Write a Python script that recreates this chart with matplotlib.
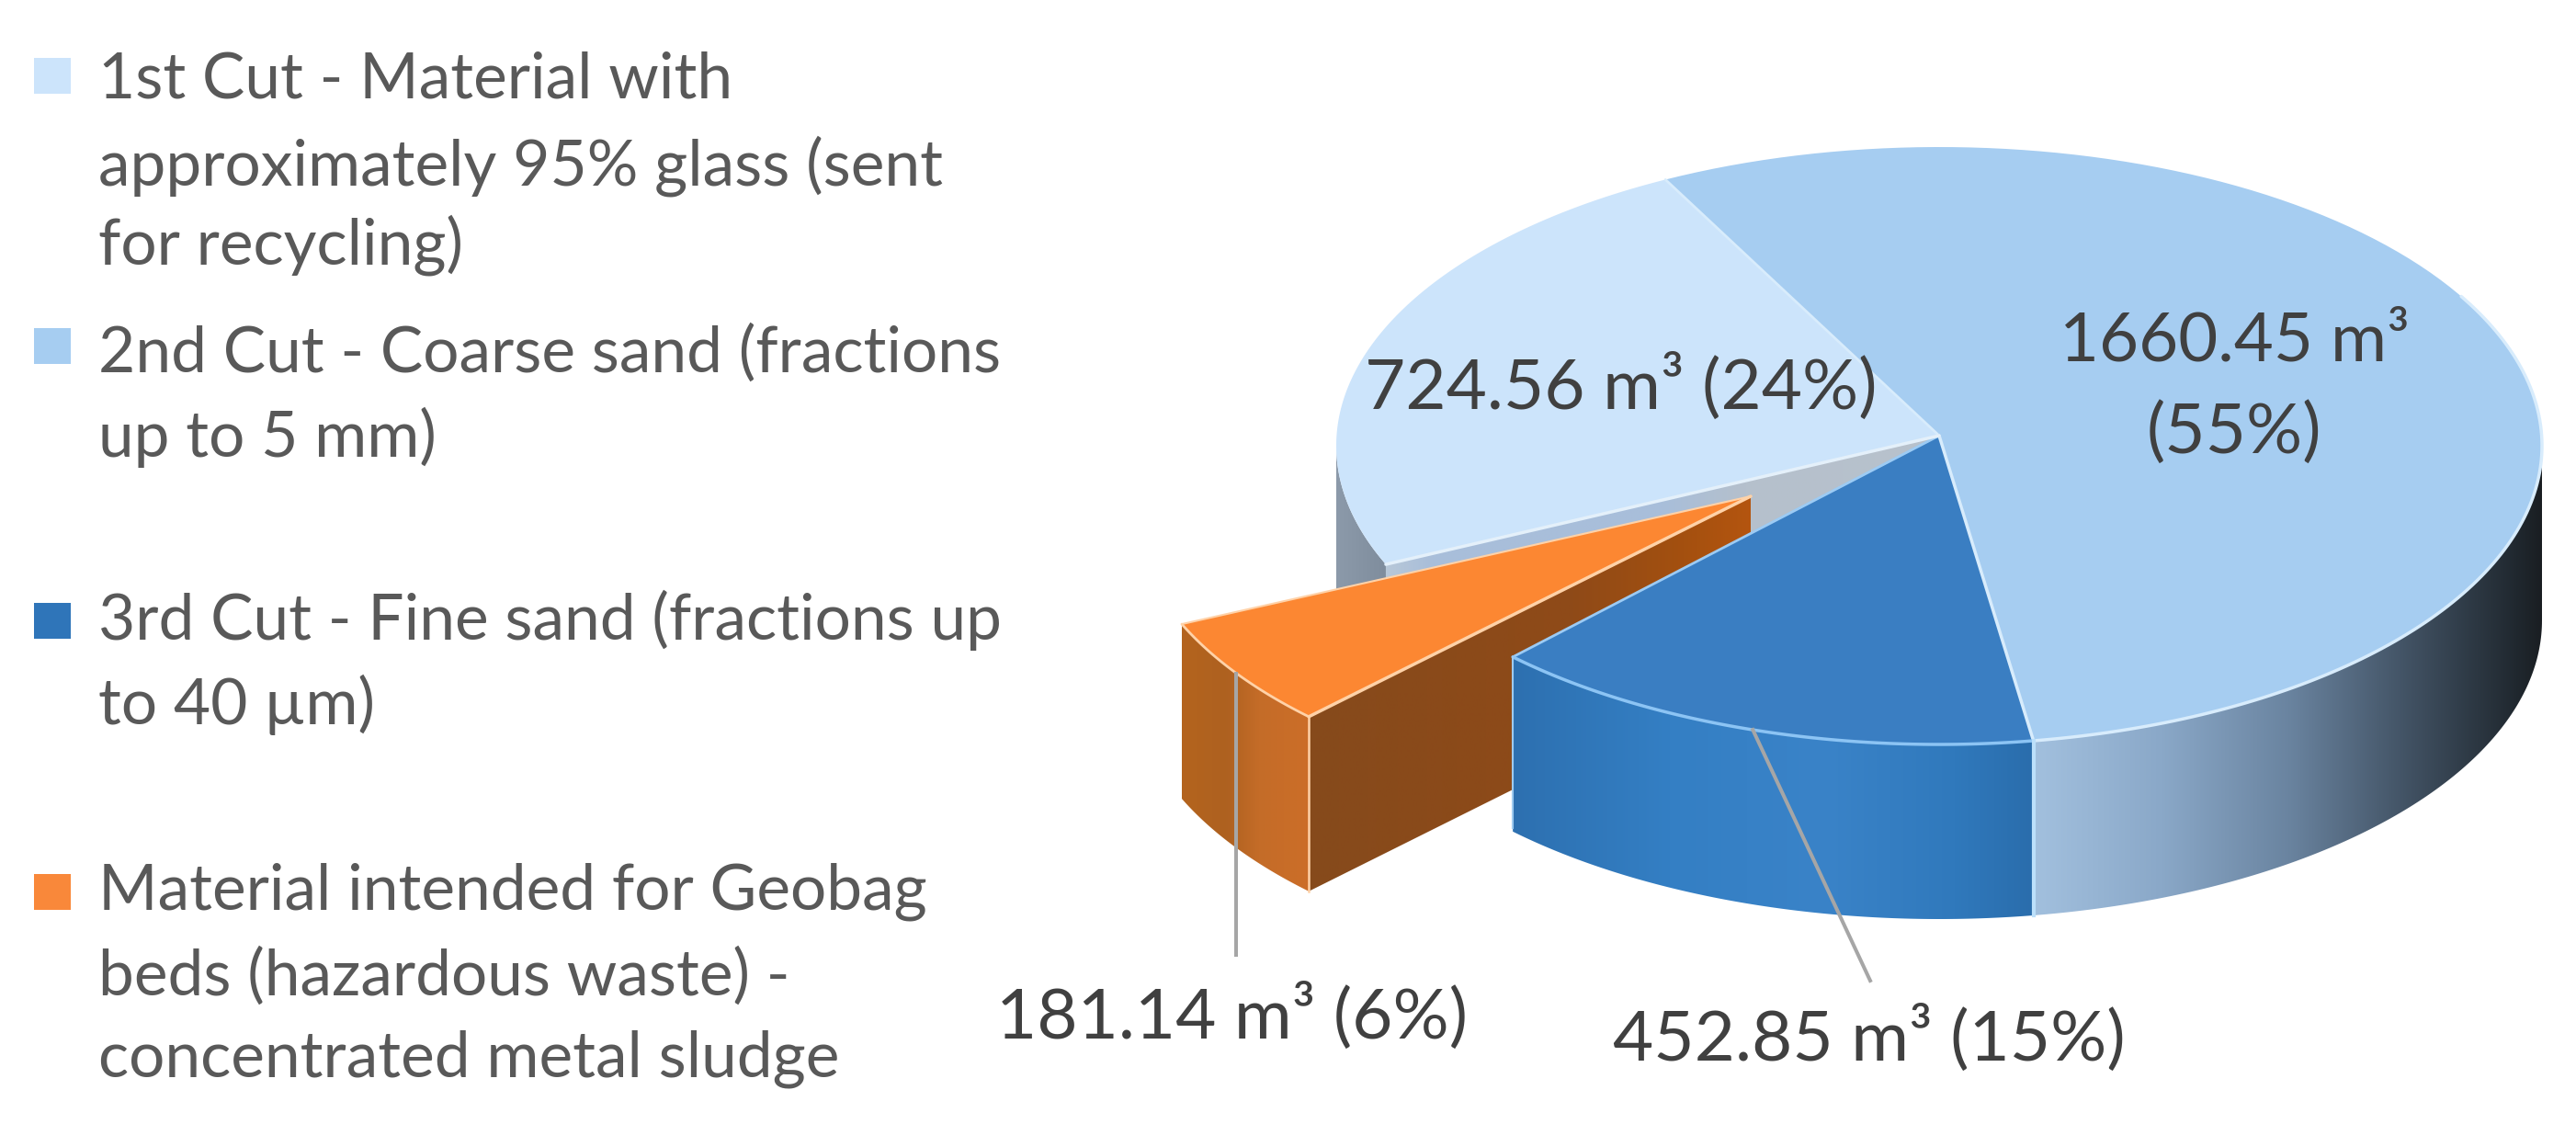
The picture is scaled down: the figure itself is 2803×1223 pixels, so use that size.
import matplotlib
matplotlib.use('Agg')
import matplotlib.pyplot as plt
import numpy as np
from matplotlib.colors import LinearSegmentedColormap
from matplotlib.patches import Polygon, Rectangle

plt.rcParams['font.family'] = ['Lato', 'DejaVu Sans']

# slice values, clockwise from the start angle
volumes = [1660.45, 452.85, 181.14, 724.56]
percents = [55, 15, 6, 24]
top_colors = ['#A6CDF1', '#3A7EC2', '#FC8732', '#CCE4FB']

legend_lines = [
    ['1st Cut - Material with', 'approximately 95% glass (sent', 'for recycling)'],
    ['2nd Cut - Coarse sand (fractions', 'up to 5 mm)'],
    ['3rd Cut - Fine sand (fractions up', 'to 40 µm)'],
    ['Material intended for Geobag', 'beds (hazardous waste) -', 'concentrated metal sludge'],
]
legend_colors = ['#CCE4FB', '#A6CDF1', '#2F75B9', '#F9883A']

# pie geometry, in image pixels
CX, CY = 2110, 485
RX, RY = 656, 325
APEX = (2110, 474)
DEPTH = 190
START = 333
EXPLODE = (-222, 65)
ORANGE_TIP = (1905, 540)


def rim(a, b, off=(0, 0), n=120):
    t = np.radians(np.linspace(a, b, n))
    return np.column_stack([CX + off[0] + RX * np.sin(t), CY + off[1] - RY * np.cos(t)])


def down(pts):
    return pts + np.array([0, DEPTH])


def grad_fill(ax, pts, stops, z):
    # horizontal gradient clipped to a polygon
    x0, x1 = pts[:, 0].min(), pts[:, 0].max()
    y0, y1 = pts[:, 1].min(), pts[:, 1].max()
    cmap = LinearSegmentedColormap.from_list('g', stops)
    im = ax.imshow(np.linspace(0, 1, 256).reshape(1, -1), cmap=cmap, aspect='auto',
                   extent=(x0, x1, y1, y0), zorder=z, interpolation='bilinear')
    clip = Polygon(pts, closed=True, transform=ax.transData, fc='none', ec='none')
    ax.add_patch(clip)
    im.set_clip_path(clip)


def wall(a, b, off=(0, 0)):
    top = rim(a, b, off)
    return np.vstack([top, down(top)[::-1]])


fig = plt.figure(figsize=(28.03, 12.23), dpi=100)
ax = fig.add_axes([0, 0, 1, 1])

# slice boundaries from the values
total = sum(volumes)
bounds = START + np.cumsum([0] + [v / total * 360 for v in volumes])
a_2nd, a_3rd, a_geo, a_1st, a_end = bounds
apex = np.array(APEX, dtype=float)
tip = np.array(ORANGE_TIP, dtype=float)

# 1st cut outer wall and cut face
grad_fill(ax, wall(a_1st, 630), [(0, '#8C9AAA'), (1, '#7F8D9D')], 1)
corner = rim(a_1st, a_1st, n=1)[0]
face = np.array([apex, corner, corner + [0, DEPTH], apex + [0, DEPTH]])
grad_fill(ax, face, [(0, '#B8C8D8'), (0.08, '#A9BEDA'), (0.5, '#A8BEDA'), (0.65, '#B5C0CC'), (1, '#B8C2CC')], 2)

# 1st and 2nd cut tops
ax.add_patch(Polygon(np.vstack([apex, rim(a_1st, a_end)]), fc=top_colors[3], ec='none', zorder=3))
ax.add_patch(Polygon(np.vstack([apex, rim(a_2nd, a_3rd)]), fc=top_colors[0], ec='none', zorder=3))

# 2nd cut wall
grad_fill(ax, wall(a_3rd - 360, 90),
          [(0, '#A2C0DE'), (0.25, '#8AA8C8'), (0.5, '#6A84A0'), (0.75, '#3F4F60'), (0.95, '#20282F'), (1, '#1A1E22')],
          4)

# exploded slice
geo = rim(a_geo, a_1st, EXPLODE)
inner = np.array([tip, geo[0], geo[0] + [0, DEPTH], tip + [0, DEPTH]])
grad_fill(ax, inner, [(0, '#864A1C'), (0.6, '#8F4A18'), (0.85, '#A4500F'), (1, '#B4550F')], 5)
grad_fill(ax, wall(a_geo, a_1st, EXPLODE), [(0, '#B4641E'), (0.35, '#AE6120'), (0.6, '#C46C28'), (1, '#CC6E28')], 5)
ax.add_patch(Polygon(np.vstack([tip, geo]), fc=top_colors[2], ec='none', zorder=6))

# 3rd cut wall and top
grad_fill(ax, wall(a_3rd, a_geo),
          [(0, '#2D70B0'), (0.3, '#347FC4'), (0.6, '#3A83C8'), (0.85, '#3079BC'), (1, '#2A6DAC')], 7)
ax.add_patch(Polygon(np.vstack([apex, rim(a_3rd, a_geo)]), fc=top_colors[1], ec='none', zorder=8))

# light edges between faces
edge = dict(solid_capstyle='round', zorder=9)
pale = '#D8ECFC'
c3 = rim(a_3rd, a_3rd, n=1)[0]
c4 = rim(a_geo, a_geo, n=1)[0]
c1 = rim(a_end, a_end, n=1)[0]
ax.plot(*np.column_stack([apex, c1]), color=pale, lw=2, **edge)
ax.plot(*np.column_stack([apex, c3]), color=pale, lw=2.5, **edge)
ax.plot(*np.column_stack([apex, c4]), color='#9CCBF4', lw=2, **edge)
ax.plot(*np.column_stack([apex, corner]), color='#E4F0FA', lw=2.5, **edge)
ax.plot(*rim(60, a_3rd - 360).T, color=pale, lw=2.5, **edge)
ax.plot(*rim(a_3rd, a_geo).T, color='#8CC4F4', lw=2.5, **edge)
ax.plot([c3[0], c3[0]], [c3[1], c3[1] + DEPTH], color='#BCE0FA', lw=3, zorder=9)
ax.plot([c4[0], c4[0]], [c4[1], c4[1] + DEPTH - 4], color='#9FCBF0', lw=1.5, zorder=9)
orange_edge = '#FFD2A8'
ax.plot(*np.column_stack([tip, geo[0]]), color=orange_edge, lw=2.5, **edge)
ax.plot(*np.column_stack([tip, geo[-1]]), color=orange_edge, lw=1.5, **edge)
ax.plot(*geo.T, color=orange_edge, lw=2, **edge)
ax.plot([geo[0][0], geo[0][0]], [geo[0][1], geo[0][1] + DEPTH], color=orange_edge, lw=1.8, zorder=9)

# leader lines, anchored at the middle of each slice rim
leader = dict(color='#A6A6A6', lw=2.9, zorder=10)
mid_geo = rim((a_geo + a_1st) / 2, (a_geo + a_1st) / 2, EXPLODE, n=1)[0]
ax.plot([mid_geo[0], mid_geo[0]], [mid_geo[1], 1039], **leader)
mid_3rd = rim((a_3rd + a_geo) / 2, (a_3rd + a_geo) / 2, n=1)[0]
ax.plot([mid_3rd[0], 2035], [mid_3rd[1], 1067], **leader)

# data labels
label_color = '#404040'
lab = dict(color=label_color, fontsize=55, ha='center', va='center', zorder=11)
ax.text(2431, 372, f'{volumes[0]:.2f} m³', fontsize=53.5, color=label_color, ha='center', va='center', zorder=11)
ax.text(2431, 471, f'({percents[0]}%)', **lab)
ax.text(1764, 421, f'{volumes[3]:.2f} m³ ({percents[3]}%)', **lab)
ax.text(1341, 1106, f'{volumes[2]:.2f} m³ ({percents[2]}%)', **lab)
ax.text(2034, 1130, f'{volumes[1]:.2f} m³ ({percents[1]}%)', **lab)

# legend
line_y = [[87, 181, 267], [384, 476], [675, 767], [970, 1062, 1152]]
square_y = [63, 357, 656, 951]
for lines, ys, sy, col in zip(legend_lines, line_y, square_y, legend_colors):
    ax.add_patch(Rectangle((37, sy), 40, 39, fc=col, ec='none'))
    for s, y in zip(lines, ys):
        ax.text(107, y, s, color='#595959', fontsize=50, ha='left', va='center')

ax.set_xlim(0, 2803)
ax.set_ylim(1223, 0)
ax.axis('off')
fig.savefig('out.png', dpi=100)
